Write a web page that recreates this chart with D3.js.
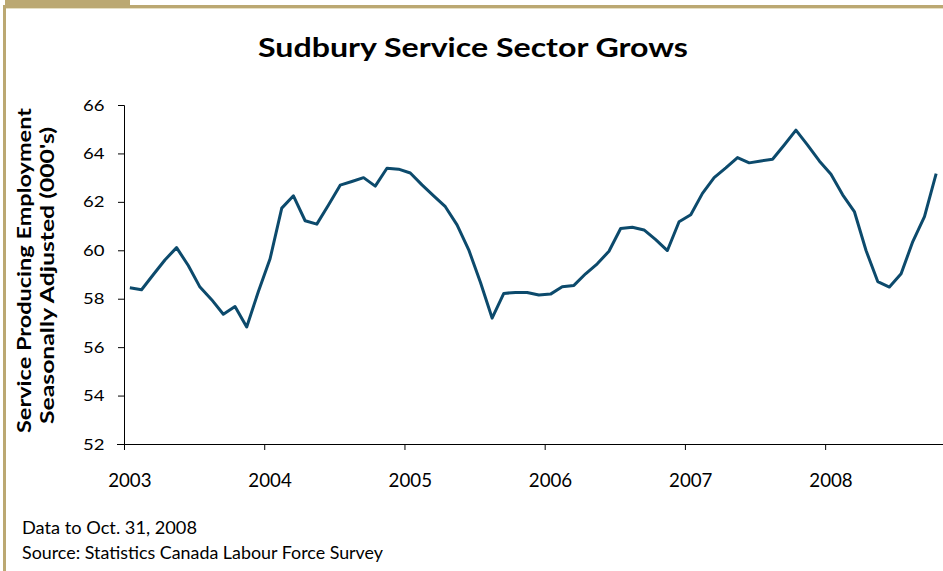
<!DOCTYPE html>
<html>
<head>
<meta charset="utf-8">
<script src="https://cdn.jsdelivr.net/npm/d3@7"></script>
<style>
  html, body { margin: 0; padding: 0; background: #fff; }
  svg { display: block; }
</style>
</head>
<body>
<svg id="chart" width="943" height="571"></svg>
<script>
// ---- Data ----
const years = ["2003", "2004", "2005", "2006", "2007", "2008"];
const values2003 = [58.45, 58.37, 58.99, 59.60, 60.11, 59.37, 58.48, 57.96, 57.36, 57.68, 56.83, 58.30];
const values2004 = [59.65, 61.74, 62.25, 61.22, 61.08, 61.87, 62.69, 62.84, 63.00, 62.65, 63.39, 63.35];
const values2005 = [63.19, 62.70, 62.25, 61.80, 61.05, 60.02, 58.68, 57.20, 58.22, 58.26, 58.26, 58.15];
const values2006 = [58.19, 58.49, 58.55, 59.03, 59.44, 59.96, 60.90, 60.95, 60.84, 60.44, 59.99, 61.18];
const values2007 = [61.47, 62.35, 63.00, 63.40, 63.83, 63.61, 63.69, 63.76, 64.35, 64.96, 64.34, 63.69];
const values2008 = [63.14, 62.29, 61.60, 59.99, 58.71, 58.48, 59.03, 60.36, 61.39, 63.17];
const yTicks = [52, 54, 56, 58, 60, 62, 64, 66];
const titleText = "Sudbury Service Sector Grows";
const yLabel1 = "Service Producing Employment";
const yLabel2 = "Seasonally Adjusted (000's)";
const note1 = "Data to Oct. 31, 2008";
const note2 = "Source: Statistics Canada Labour Force Survey";

(function () {
const series = [].concat(values2003, values2004, values2005, values2006, values2007, values2008);
const nMonths = series.length; // 70

// ---- Layout ----
const svg = d3.select("#chart");
const font = "Lato, 'Open Sans', sans-serif";
const tan = "#bba872";
const lineColor = "#0c4a6c";

const plotLeft = 124, plotRight = 942, plotTop = 105, plotBottom = 444;

// frame decorations
svg.append("rect").attr("x", 5).attr("y", 0).attr("width", 125).attr("height", 5).attr("fill", tan);
svg.append("rect").attr("x", 3).attr("y", 5).attr("width", 940).attr("height", 3).attr("fill", tan);
svg.append("rect").attr("x", 6).attr("y", 8).attr("width", 937).attr("height", 1).attr("fill", "#e6dfc4");
svg.append("rect").attr("x", 3).attr("y", 5).attr("width", 3).attr("height", 566).attr("fill", tan);

// scales
const x = d3.scaleLinear().domain([0, nMonths]).range([plotLeft, plotRight]);
const y = d3.scaleLinear().domain([52, 66]).range([plotBottom, plotTop]);

// title
svg.append("text")
  .attr("x", 258).attr("y", 57)
  .attr("text-anchor", "start")
  .attr("font-family", font).attr("font-weight", "bold").attr("font-size", 26)
  .attr("textLength", 430).attr("lengthAdjust", "spacingAndGlyphs")
  .attr("fill", "#000")
  .text(titleText);

// y axis
const yAxis = d3.axisLeft(y).tickValues(yTicks).tickSize(6).tickPadding(13.5).tickFormat(d3.format("d"));
const gy = svg.append("g").attr("transform", `translate(${plotLeft},0)`).call(yAxis);
gy.select(".domain").attr("stroke", "#000").attr("stroke-width", 1);
gy.selectAll(".tick line").attr("stroke", "#000");
gy.selectAll(".tick text")
  .attr("font-family", font).attr("font-size", 16).attr("fill", "#000")
  .attr("textLength", 21.5).attr("lengthAdjust", "spacingAndGlyphs");

// x axis (ticks between categories, one per year; labels centered on January)
const yearTicks = d3.range(0, nMonths + 1, 12);
const xAxis = d3.axisBottom(x).tickValues(yearTicks).tickSize(6).tickFormat("");
const gx = svg.append("g").attr("transform", `translate(0,${plotBottom})`).call(xAxis);
gx.select(".domain").attr("stroke", "#000").attr("stroke-width", 1).attr("d", `M${plotLeft - 7},0.5H${plotRight + 1}`);
gx.selectAll(".tick line").attr("stroke", "#000");

svg.append("g").selectAll("text").data(years).join("text")
  .attr("x", (d, i) => x(i * 12 + 0.5) - 21.7)
  .attr("y", 487)
  .attr("text-anchor", "start")
  .attr("font-family", font).attr("font-size", 19).attr("fill", "#000")
  .attr("textLength", 43.4).attr("lengthAdjust", "spacingAndGlyphs")
  .text(d => d);

// y axis title
svg.append("text")
  .attr("transform", `translate(30.5,433) rotate(-90)`)
  .attr("text-anchor", "start")
  .attr("font-family", font).attr("font-weight", "bold").attr("font-size", 18).attr("fill", "#000")
  .attr("textLength", 325).attr("lengthAdjust", "spacingAndGlyphs")
  .text(yLabel1);
svg.append("text")
  .attr("transform", `translate(53.5,424) rotate(-90)`)
  .attr("text-anchor", "start")
  .attr("font-family", font).attr("font-weight", "bold").attr("font-size", 18).attr("fill", "#000")
  .attr("textLength", 297).attr("lengthAdjust", "spacingAndGlyphs")
  .text(yLabel2);

// line
const line = d3.line().x((d, i) => x(i + 0.5)).y(d => y(d));
svg.append("path")
  .datum(series)
  .attr("d", line)
  .attr("fill", "none")
  .attr("stroke", lineColor)
  .attr("stroke-width", 3)
  .attr("stroke-linejoin", "round");

// notes
svg.append("text").attr("x", 22).attr("y", 534)
  .attr("font-family", font).attr("font-size", 17.5).attr("fill", "#000")
  .attr("textLength", 175).attr("lengthAdjust", "spacingAndGlyphs").text(note1);
svg.append("text").attr("x", 22).attr("y", 558.5)
  .attr("font-family", font).attr("font-size", 17.5).attr("fill", "#000")
  .attr("textLength", 361).attr("lengthAdjust", "spacingAndGlyphs").text(note2);
})();
</script>
</body>
</html>
